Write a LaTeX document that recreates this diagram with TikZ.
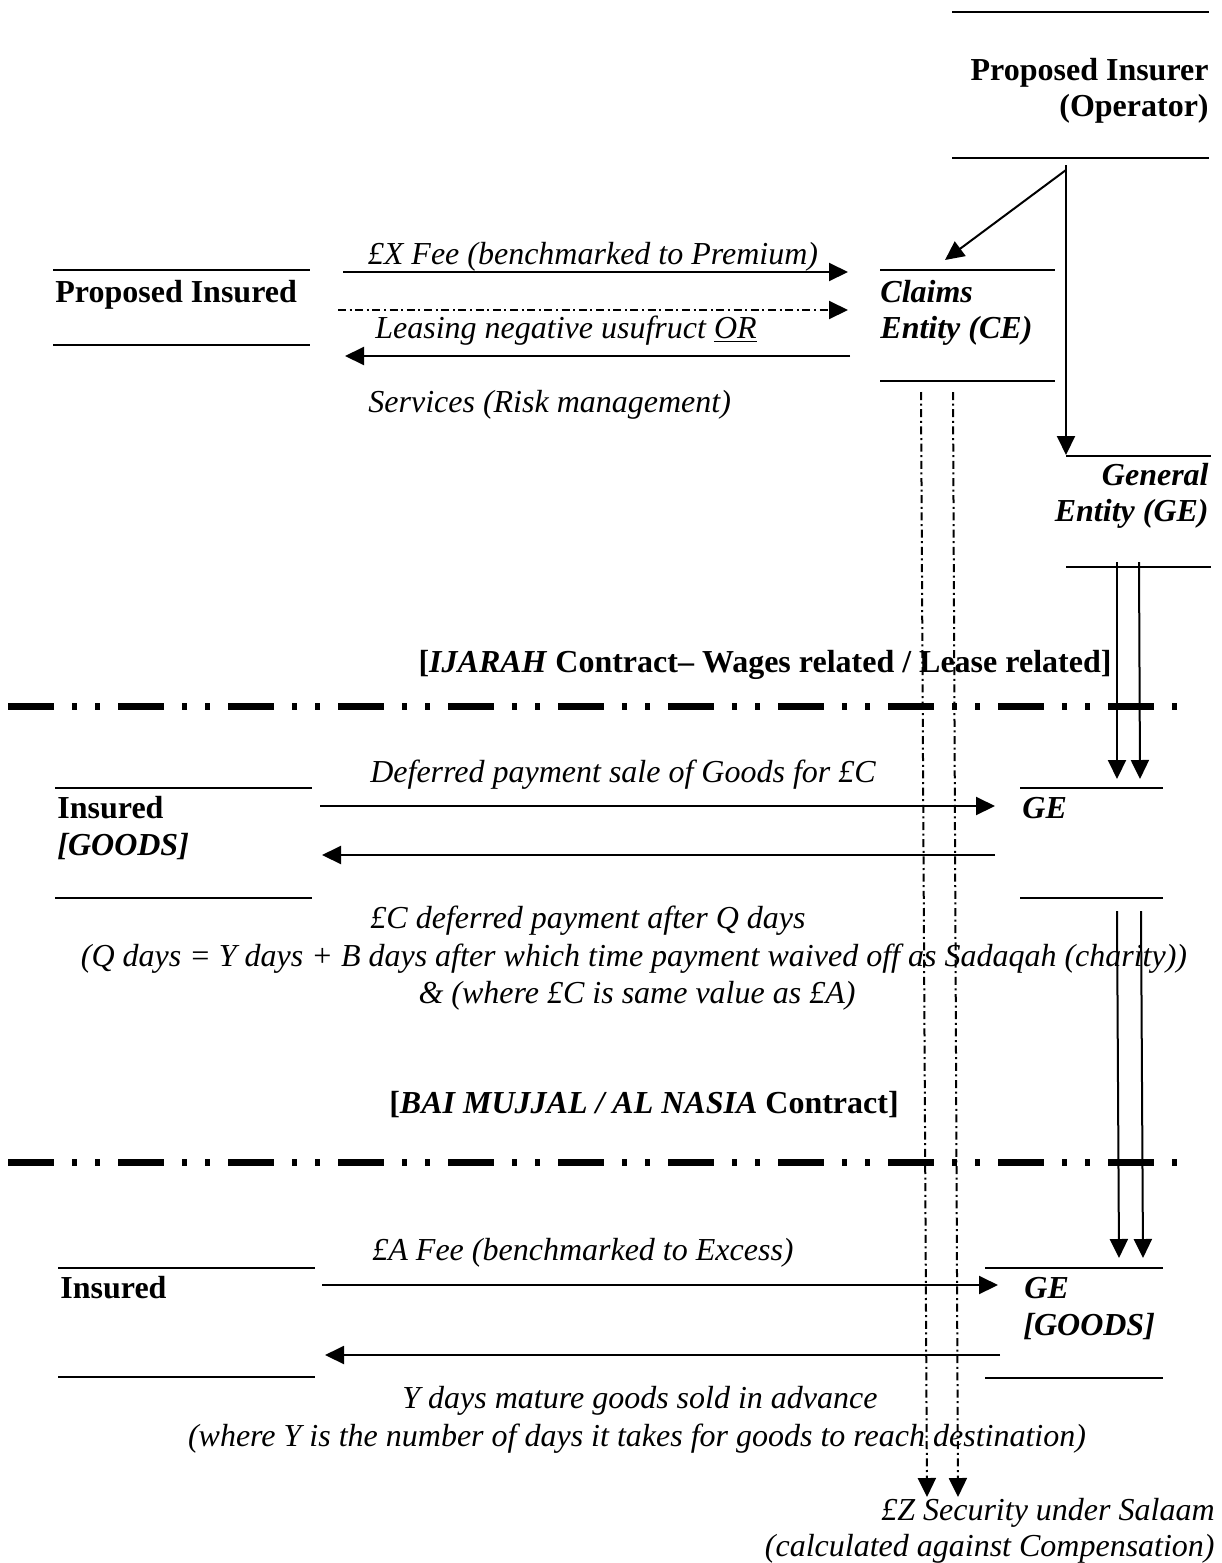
\documentclass[tikz,border=0pt]{standalone}
\usepackage{fontspec}
\setmainfont{Liberation Serif}
\usetikzlibrary{arrows.meta,fit}
\begin{document}
\begin{tikzpicture}[x=0.5pt,y=-0.5pt,
  bar/.style={line width=0.9pt},
  slot/.style={inner sep=0pt, outer sep=0pt},
  flow/.style={line width=1pt,-{Triangle[length=9.5pt,width=9pt]}},
  dashflow/.style={flow, dash pattern=on 4pt off 1.8pt on 1pt off 1.8pt},
  divider/.style={line width=3.5pt, dash pattern=on 23pt off 9pt on 2.5pt off 9pt on 2.5pt off 9pt},
  txt/.style={inner sep=0pt, font=\fontsize{16}{18.5}\selectfont},
  lt/.style={txt, anchor=base west},
  rt/.style={txt, anchor=base east},
  ct/.style={txt, anchor=base}]

% canvas
\fill[white] (0,0) rectangle (1221,1563);
\useasboundingbox (0,0) rectangle (1221,1563);

% entity slots (drawn as a pair of horizontal bars)
\node[slot, fit={(952,12) (1209,158)}] (insurer) {};
\node[slot, fit={(880,270) (1055,381)}] (ce) {};
\node[slot, fit={(1066,456) (1211,567)}] (ge) {};
\node[slot, fit={(53,270) (310,345)}] (insured0) {};
\node[slot, fit={(55,788) (312,898)}] (insured1) {};
\node[slot, fit={(1020,788) (1163,898)}] (ge1) {};
\node[slot, fit={(58,1268) (315,1377)}] (insured2) {};
\node[slot, fit={(985,1268) (1163,1378)}] (ge2) {};
\foreach \n in {insurer,ce,ge,insured0,insured1,ge1,insured2,ge2}
  \draw[bar] (\n.north west) -- (\n.north east) (\n.south west) -- (\n.south east);

% entity texts
\node[rt] (t-ins1) at (1209,80) {\bfseries Proposed Insurer};
\node[rt] (t-ins2) at (1209,116) {\bfseries (Operator)};
\node[lt] (t-ce1) at (880,302) {\bfseries\itshape Claims};
\node[lt] (t-ce2) at (880,338) {\bfseries\itshape Entity (CE)};
\node[rt] (t-ge1) at (1209,485) {\bfseries\itshape General};
\node[rt] (t-ge2) at (1209,521) {\bfseries\itshape Entity (GE)};
\node[lt] (t-pi) at (55,302) {\bfseries Proposed Insured};
\node[lt] (t-is1) at (57,818) {\bfseries Insured};
\node[lt] (t-is1b) at (57,855) {\bfseries\itshape [GOODS]};
\node[lt] (t-g1) at (1022,818) {\bfseries\itshape GE};
\node[lt] (t-is2) at (60,1298) {\bfseries Insured};
\node[lt] (t-g2) at (1024,1298) {\bfseries\itshape GE};
\node[lt] (t-g2b) at (1023,1335) {\bfseries\itshape [GOODS]};

% flow labels
\node[ct] (l-fee) at (593,264) {\itshape £X Fee (benchmarked to Premium)};
\node[ct] (l-lease) at (566,338) {\itshape Leasing negative usufruct \underline{OR}};
\node[lt] (l-serv) at (368,412) {\itshape Services (Risk management)};
\node[ct] (l-def) at (623,782) {\itshape Deferred payment sale of Goods for £C};
\node[ct] (l-c1) at (588,928) {\itshape £C deferred payment after Q days};
\node[ct] (l-c2) at (634,966) {\itshape (Q days = Y days + B days after which time payment waived off as Sadaqah (charity))};
\node[ct] (l-c3) at (637,1003) {\itshape \& (where £C is same value as £A)};
\node[ct] (l-afee) at (583,1260) {\itshape £A Fee (benchmarked to Excess)};
\node[ct] (l-y1) at (640,1408) {\itshape Y days mature goods sold in advance};
\node[ct] (l-y2) at (637,1446) {\itshape (where Y is the number of days it takes for goods to reach destination)};
\node[rt] (l-z1) at (1215,1520) {\itshape £Z Security under Salaam};
\node[rt] (l-z2) at (1215,1556) {\itshape (calculated against Compensation)};

% contract headings
\node[ct] (h-ijarah) at (765,672) {\bfseries [\textit{IJARAH} Contract– Wages related / Lease related]};
\node[ct] (h-bai) at (644,1113) {\bfseries [\textit{BAI MUJJAL / AL NASIA} Contract]};

% section dividers
\coordinate (d1a) at (8,706);  \coordinate (d1b) at (1178,706);
\coordinate (d2a) at (8,1162); \coordinate (d2b) at (1178,1162);
\draw[divider] (d1a) -- (d1b);
\draw[divider] (d2a) -- (d2b);

% operator splits into the two entities
\coordinate (fork) at (1066,165);
\coordinate (forkd) at (1066,170);
\coordinate (ceTip) at (945,260);
\coordinate (geTip) at (1066,455);
\draw[line width=1pt] (fork) -- (forkd);
\draw[flow] (forkd) -- (ceTip);
\draw[flow] (forkd) -- (geTip);

% insured <-> claims entity
\coordinate (feeS) at (343,272);   \coordinate (feeE) at (848,272);
\coordinate (lsS) at (338,310);    \coordinate (lsE) at (848,310);
\coordinate (svS) at (850,356);    \coordinate (svE) at (345,356);
\draw[flow] (feeS) -- (feeE);
\draw[dashflow] (lsS) -- (lsE);
\draw[flow] (svS) -- (svE);

% general entity feeds both lower contracts
\coordinate (ga1) at (1117,562); \coordinate (ga1e) at (1117,779);
\coordinate (ga2) at (1139,562); \coordinate (ga2e) at (1140,779);
\coordinate (gb1) at (1117,911); \coordinate (gb1e) at (1119,1258);
\coordinate (gb2) at (1141,911); \coordinate (gb2e) at (1143,1258);
\draw[flow] (ga1) -- (ga1e);
\draw[flow] (ga2) -- (ga2e);
\draw[flow] (gb1) -- (gb1e);
\draw[flow] (gb2) -- (gb2e);

% claims entity security lines
\coordinate (cz1) at (921,392); \coordinate (cz1e) at (927,1497);
\coordinate (cz2) at (953,392); \coordinate (cz2e) at (958,1497);
\draw[dashflow] (cz1) -- (cz1e);
\draw[dashflow] (cz2) -- (cz2e);

% deferred sale
\coordinate (m1S) at (320,806);  \coordinate (m1E) at (995,806);
\coordinate (m2S) at (995,855);  \coordinate (m2E) at (322,855);
\draw[flow] (m1S) -- (m1E);
\draw[flow] (m2S) -- (m2E);

% salaam sale
\coordinate (b1S) at (322,1285); \coordinate (b1E) at (998,1285);
\coordinate (b2S) at (1000,1355); \coordinate (b2E) at (325,1355);
\draw[flow] (b1S) -- (b1E);
\draw[flow] (b2S) -- (b2E);
\end{tikzpicture}
\end{document}
